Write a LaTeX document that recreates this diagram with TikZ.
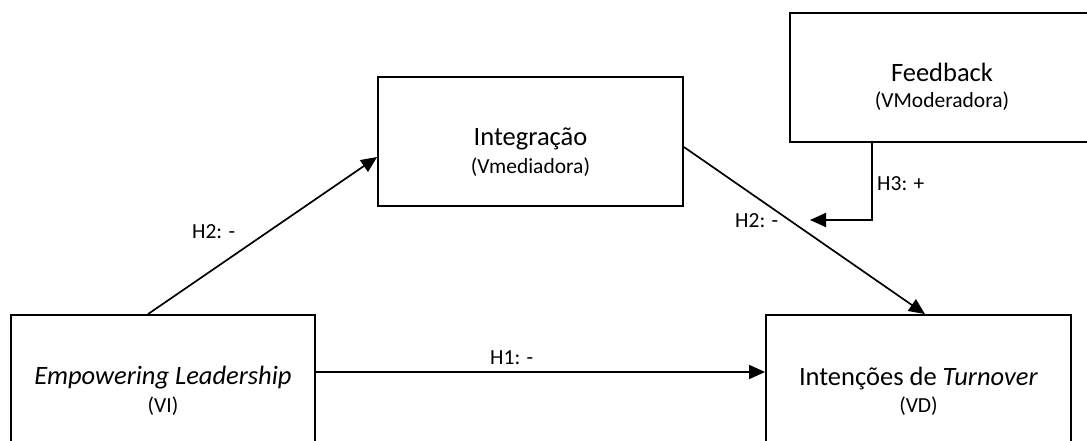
\documentclass[tikz,border=0pt]{standalone}
\usepackage{fontspec}
\setmainfont{Carlito}
\usetikzlibrary{arrows.meta,calc}

\begin{document}
\begin{tikzpicture}[
  x=1pt, y=-1pt,
  box/.style={draw, line width=1.8pt, rectangle, minimum width=304pt,
              minimum height=129pt, inner sep=0pt},
  maintxt/.style={anchor=base, inner sep=0pt, font=\fontsize{26.5}{30}\selectfont},
  subtxt/.style={anchor=base, inner sep=0pt, font=\fontsize{21.5}{25}\selectfont},
  hyp/.style={anchor=base west, inner sep=0pt, font=\fontsize{21.5}{25}\selectfont},
  link/.style={line width=1.7pt, -{Triangle[length=16pt,width=14pt]}}
]
\useasboundingbox (0,0) rectangle (1087,441);

% variable boxes
\node[box] (el)  at (163,379.5)   {};
\node[box, minimum width=305pt] (to)  at (918.5,379.5) {};
\node[box, minimum width=305pt] (int) at (530.5,141.5) {};
\node[box] (fb)  at (942,77.5)    {};

% box texts
\node[maintxt] (elA)  at ($(el.center)+(0,5)$)    {\itshape Empowering Leadership};
\node[subtxt]  (elB)  at ($(el.center)+(0,33)$)   {(VI)};
\node[maintxt] (toA)  at ($(to.center)+(0,6)$)    {Intenções de \textit{Turnover}};
\node[subtxt]  (toB)  at ($(to.center)+(0,33)$)   {(VD)};
\node[maintxt] (intA) at ($(int.center)+(0,4)$)   {Integração};
\node[subtxt]  (intB) at ($(int.center)+(0,31.5)$) {(Vmediadora)};
\node[maintxt] (fbA)  at ($(fb.center)+(0,4.5)$)  {Feedback};
\node[subtxt]  (fbB)  at ($(fb.center)+(0,30.5)$) {(VModeradora)};

% moderating effect target
\coordinate (h3tip) at (810,220);

% paths
\draw[link] ([xshift=-15pt]el.north) -- ([yshift=-15.5pt]int.west);
\draw[link] ([yshift=-5.5pt]int.east) -- ([xshift=6.5pt]to.north);
\draw[link] ([yshift=7.5pt]el.east) -- ([yshift=7.5pt]to.west);
\draw[link] ([xshift=-70pt]fb.south) |- (h3tip);

% hypothesis labels
\node[hyp] (h2a) at (192,238) {H2: -};
\node[hyp] (h2b) at (735,227) {H2: -};
\node[hyp] (h3)  at (877,190) {H3: +};
\node[hyp] (h1)  at (490,364) {H1: -};
\end{tikzpicture}
\end{document}
